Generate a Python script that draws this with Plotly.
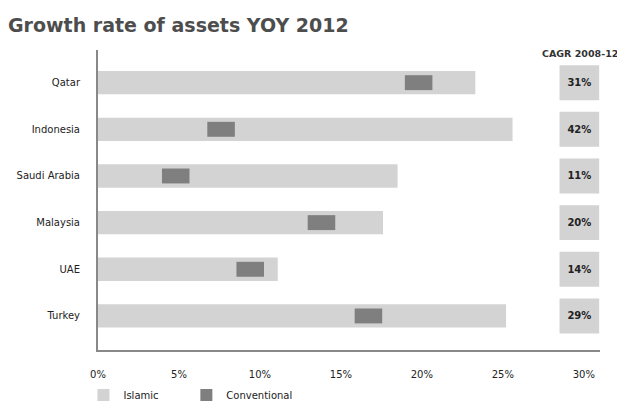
import plotly.graph_objects as go

# Data (bottom to top order for the y axis)
countries = ["Turkey", "UAE", "Malaysia", "Saudi Arabia", "Indonesia", "Qatar"]
islamic = [25.2, 11.1, 17.6, 18.5, 25.6, 23.3]
conventional = [16.7, 9.4, 13.8, 4.8, 7.6, 19.8]
cagr = ["29%", "14%", "20%", "11%", "42%", "31%"]
xticks = [0, 5, 10, 15, 20, 25, 30]
xticklabels = ["0%", "5%", "10%", "15%", "20%", "25%", "30%"]

ISL = "#d3d3d3"
CONV = "#7f7f7f"
FONT = "DejaVu Sans"

marker_w = 1.7  # visual width of conventional marker, in % units

fig = go.Figure()
fig.add_trace(go.Bar(
    y=countries, x=islamic, orientation="h", name="Islamic",
    marker=dict(color=ISL, line=dict(width=0)), width=0.5, legend="legend",
))
fig.add_trace(go.Bar(
    y=countries, x=[marker_w] * len(conventional),
    base=[v - marker_w / 2 for v in conventional], orientation="h",
    name="Conventional", marker=dict(color=CONV, line=dict(width=0)), width=0.32,
    legend="legend2",
))
# CAGR boxes
fig.add_trace(go.Bar(
    y=countries, x=[2.45] * len(cagr), base=[28.5] * len(cagr), orientation="h",
    text=["<b>%s</b>" % c for c in cagr], textposition="inside", insidetextanchor="middle",
    textfont=dict(family=FONT, size=10, color="#222"),
    marker=dict(color=ISL, line=dict(width=0)), width=0.75,
    showlegend=False, hoverinfo="skip",
))

legend_common = dict(orientation="h", xanchor="left", y=-0.15, yanchor="middle",
                     font=dict(family=FONT, size=10, color="#222"),
                     bgcolor="rgba(0,0,0,0)")

fig.update_layout(
    width=617, height=398,
    margin=dict(l=90, r=25, t=42, b=56, autoexpand=False),
    barmode="overlay",
    plot_bgcolor="white", paper_bgcolor="white",
    font=dict(family=FONT, size=10, color="#222"),
    title=dict(text="<b>Growth rate of assets YOY 2012</b>",
               x=0.0, xanchor="left", y=0.957, yanchor="middle",
               font=dict(family=FONT, size=19, color="#4d4d4d")),
    xaxis=dict(range=[0, 31], tickvals=xticks, ticktext=xticklabels,
               showgrid=False, zeroline=False, showline=True,
               linecolor="#888", linewidth=2, ticks="", ticklabelstandoff=14,
               tickfont=dict(family=FONT, size=10, color="#222")),
    yaxis=dict(categoryorder="array", categoryarray=countries,
               range=[-0.73, 5.70], showgrid=False, zeroline=False,
               showline=True, linecolor="#888", linewidth=2, ticks="",
               ticklabelstandoff=14,
               tickfont=dict(family=FONT, size=10, color="#222")),
    legend=dict(x=-0.029, **legend_common),
    legend2=dict(x=0.176, **legend_common),
    showlegend=True,
    annotations=[dict(text="<b>CAGR 2008-12</b>", xref="paper", yref="paper",
                      x=1.04, y=0.99, xanchor="right", yanchor="middle",
                      showarrow=False, font=dict(family=FONT, size=9.5, color="#333"))],
)

fig.write_html("out.html")
